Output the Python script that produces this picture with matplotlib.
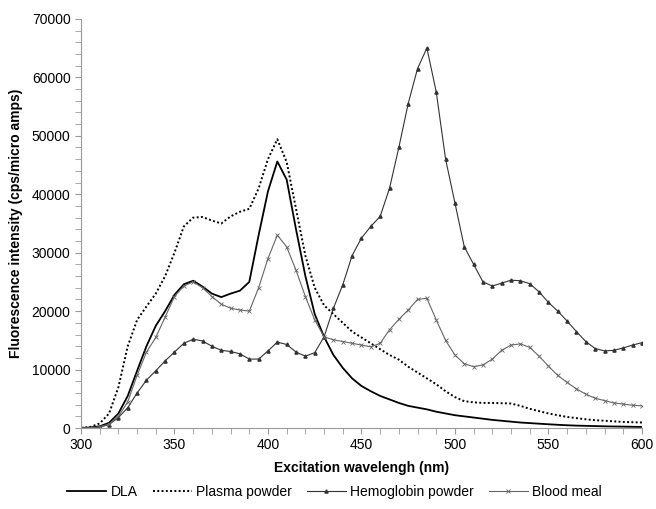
import matplotlib.pyplot as plt
import numpy as np

plt.rcParams['font.family'] = ['Liberation Sans', 'DejaVu Sans']

wavelength = np.arange(300, 601, 5)

dla = [0, 100, 300, 900, 2500, 5500, 9800, 14000, 17500, 20000,
       22800, 24600, 25200, 24200, 23000, 22400, 23000, 23500, 25000, 33000,
       40500, 45600, 42500, 34000, 26000, 19500, 15600, 12500, 10300, 8500,
       7200, 6300, 5500, 4900, 4300, 3800, 3500, 3200, 2800, 2500,
       2200, 2000, 1800, 1600, 1400, 1250, 1100, 950, 850, 750,
       650, 560, 480, 420, 380, 340, 300, 270, 250, 220, 200]

plasma = [0, 200, 800, 2500, 7000, 14000, 18500, 20800, 23000, 26000,
          30000, 34500, 36000, 36100, 35500, 35000, 36200, 37000, 37500, 41000,
          46000, 49400, 45500, 37500, 29500, 24000, 21000, 19500, 18000, 16500,
          15500, 14500, 13500, 12500, 11700, 10500, 9500, 8500, 7500, 6300,
          5300, 4600, 4400, 4300, 4300, 4250, 4200, 3800, 3300, 2900,
          2500, 2200, 1900, 1700, 1500, 1350, 1250, 1150, 1050, 1000, 950]

hemoglobin = [0, 50, 150, 600, 1800, 3500, 6000, 8200, 9800, 11500,
              13000, 14500, 15200, 14900, 14000, 13300, 13100, 12700, 11800, 11800,
              13200, 14700, 14300, 13000, 12300, 12900, 15600, 20500, 24500, 29500,
              32500, 34500, 36200, 41000, 48000, 55500, 61500, 65000, 57500, 46000,
              38500, 31000, 28000, 25000, 24300, 24800, 25300, 25200, 24700, 23300,
              21500, 20000, 18300, 16500, 14800, 13600, 13200, 13300, 13700, 14200, 14600]

blood_meal = [0, 50, 200, 700, 2000, 4500, 9000, 13000, 15500, 19000,
              22500, 24300, 25000, 24000, 22500, 21200, 20500, 20200, 20000, 24000,
              29000, 33000, 31000, 27000, 22500, 18500, 15600, 15100, 14800, 14500,
              14200, 13900, 14500, 16800, 18600, 20200, 22000, 22200, 18500, 15000,
              12500, 11000, 10500, 10800, 11800, 13300, 14200, 14400, 13800, 12300,
              10600, 9000, 7800, 6700, 5800, 5100, 4700, 4300, 4100, 3900, 3800]

fig = plt.figure(figsize=(6.56, 5.09), dpi=100)
ax = fig.add_axes([0.1235, 0.159, 0.855, 0.804])

ax.plot(wavelength, dla, color='black', lw=1.3, label='DLA')
ax.plot(wavelength, plasma, color='black', lw=1.4, ls=(0, (1, 1.2)), label='Plasma powder')
ax.plot(wavelength, hemoglobin, color='#333333', lw=0.8, marker='^', ms=2.3,
        label='Hemoglobin powder')
ax.plot(wavelength, blood_meal, color='#666666', lw=0.8, marker='x', ms=2.3, mew=0.6,
        label='Blood meal')

ax.set_xlim(300, 600)
ax.set_ylim(0, 70000)
ax.set_xticks(np.arange(300, 601, 50))
ax.set_xticks(np.arange(300, 601, 10), minor=True)
ax.set_yticks(np.arange(0, 70001, 10000))
ax.set_yticks(np.arange(0, 70001, 2000), minor=True)

for side in ['top', 'right']:
    ax.spines[side].set_visible(False)
for side in ['left', 'bottom']:
    ax.spines[side].set_color('#999999')
ax.tick_params(which='both', direction='out', length=4, color='#999999',
               labelsize=10, labelcolor='black')

ax.set_xlabel('Excitation wavelengh (nm)', fontsize=10, fontweight='bold', labelpad=6)
ax.set_ylabel('Fluorescence intensity (cps/micro amps)', fontsize=10, fontweight='bold',
              labelpad=6)

fig.legend(loc='lower center', bbox_to_anchor=(0.51, -0.005), ncol=4, frameon=False,
           fontsize=10, handlelength=2.8, columnspacing=1.1, handletextpad=0.3)

fig.savefig('out.png', dpi=100)
